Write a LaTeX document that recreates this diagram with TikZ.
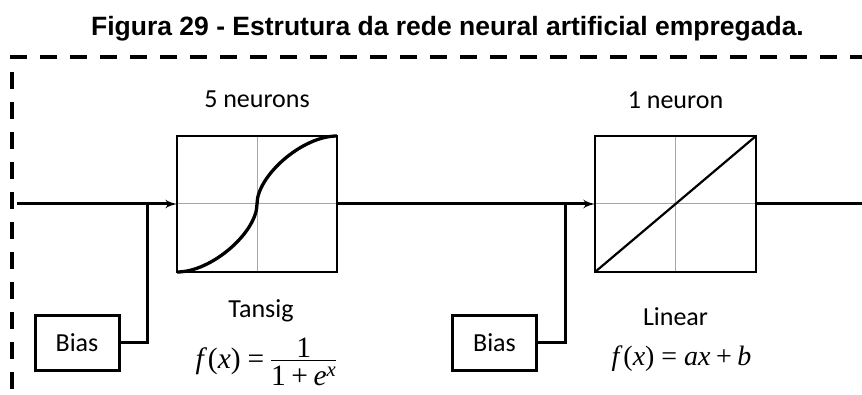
\documentclass[tikz,border=0pt]{standalone}
\usepackage{fontspec}
\usepackage{amsmath}
\usetikzlibrary{arrows,positioning,calc}
\setmainfont{Carlito}
\newfontfamily\arialfont{Liberation Sans}
\newfontfamily\timesfont{Liberation Serif}
\newcommand{\mv}[1]{\text{\timesfont\itshape #1}}
\newcommand{\mn}[1]{\text{\timesfont #1}}
\newcommand{\frc}[2]{\vcenter{\hbox{\vbox{\halign{\hfil##\hfil\cr #1\cr\noalign{\kern2pt\hrule height 1pt\kern5pt}#2\cr}}}}}

\begin{document}
\begin{tikzpicture}[x=1pt, y=1pt, thick]
  % Styles
  \tikzstyle{neuron} = [rectangle, draw, line width=2.8pt, minimum width=160pt, minimum height=136pt, inner sep=0pt, outer sep=0pt]
  \tikzstyle{biasbox} = [rectangle, draw, line width=3pt, minimum width=84pt, minimum height=55pt, inner sep=0pt, outer sep=0pt, font=\fontsize{26}{30}\selectfont]
  \tikzstyle{lbl} = [inner sep=0pt, outer sep=0pt, font=\fontsize{26}{30}\selectfont]
  \tikzstyle{formula} = [inner sep=0pt, outer sep=0pt, font=\fontsize{28}{32}\selectfont]
  \tikzstyle{wire} = [draw, line width=3pt]
  \tikzstyle{arrow} = [draw, -latex', line width=3pt]
  \tikzstyle{gridline} = [draw, gray!70, line width=1pt]
  \tikzstyle{border} = [draw, line width=4.5pt, dash pattern=on 17pt off 13pt]

  \useasboundingbox (0,0) rectangle (862,394);

  % Title and dashed frame
  \node[font=\arialfont\bfseries\fontsize{26.5}{30}\selectfont, anchor=base] (title) at (447.5,358) {Figura 29 - Estrutura da rede neural artificial empregada.};
  \path[border] (10,337) -- (880,337);
  \path[border] (12,322) -- (12,-20);

  % Nodes
  \node[neuron] (tansig) at (257,190) {};
  \node[neuron, right=258pt of tansig, minimum width=161pt] (linear) {};

  \node[lbl, above=28pt of tansig] (n5) {5 neurons};
  \node[lbl, above=27pt of linear] (n1) {1 neuron};
  \node[lbl, below=28pt of tansig, xshift=4pt] (tsglbl) {Tansig};
  \node[lbl, below=36pt of linear] (linlbl) {Linear};
  \node[formula, below=16pt of tsglbl, xshift=5pt, font=\fontsize{29.5}{34}\selectfont] (tsgf) {$\mv{f}\,\mn{(}\mv{x}\mn{)}\mathrel{\mn{=}}\frc{\timesfont 1}{$\mn{1}\mathbin{\mn{+}}\mv{e}^{\mv{x}}$}$};
  \node[formula, below=20pt of linlbl, xshift=6pt] (linf) {$\mv{f}\,\mn{(}\mv{x}\mn{)}\mathrel{\mn{=}}\mv{ax}\mathbin{\mn{+}}\mv{b}$};

  \node[biasbox] (bias1) at (77,51.5) {Bias};
  \node[biasbox] (bias2) at (494.5,51.5) {Bias};

  \coordinate (in) at (17,190);
  \coordinate (out) at (880,190);
  \coordinate (j1) at (147.5,190);
  \coordinate (j2) at (565.5,190);

  % Inside the boxes
  \path[gridline] ([yshift=-1.4pt]tansig.north) -- ([yshift=1.4pt]tansig.south);
  \path[gridline] ([xshift=1.4pt]tansig.west) -- ([xshift=-1.4pt]tansig.east);
  \path[gridline] ([yshift=-1.4pt]linear.north) -- ([yshift=1.4pt]linear.south);
  \path[gridline] ([xshift=1.4pt]linear.west) -- ([xshift=-1.4pt]linear.east);
  \draw[line width=3.3pt] (tansig.south west) .. controls +(35,0) and +(0,-28) .. (tansig.center)
    .. controls +(0,28) and +(-35,0) .. (tansig.north east);
  \draw[line width=2.2pt] (linear.south west) -- (linear.north east);

  % Edges
  \path[arrow] (in) -- (tansig.west);
  \path[wire] (bias1.east) -| (j1);
  \path[arrow] (tansig.east) -- (linear.west);
  \path[wire] (bias2.east) -| (j2);
  \path[wire] (linear.east) -- (out);

\end{tikzpicture}
\end{document}
